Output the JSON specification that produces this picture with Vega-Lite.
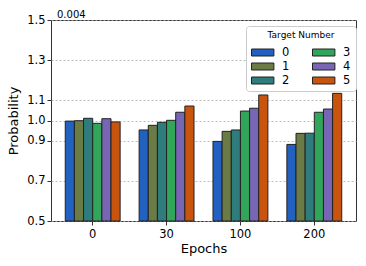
{
  "$schema": "https://vega.github.io/schema/vega-lite/v6.json",
  "autosize": "none",
  "width": 305,
  "height": 201,
  "padding": {"left": 51, "top": 20, "right": 10, "bottom": 45},
  "title": {"text": "0.004", "anchor": "start", "frame": "group", "fontSize": 10, "fontWeight": "normal", "offset": 2, "dx": 6, "dy": 8, "font": "DejaVu Sans", "color": "#000"},
  "config": {
    "font": "DejaVu Sans",
    "view": {"stroke": "#333", "strokeWidth": 1},
    "axis": {"domain": false, "tickColor": "#333", "tickSize": 4, "labelColor": "#000", "titleColor": "#000", "labelFont": "DejaVu Sans", "titleFont": "DejaVu Sans", "labelFontSize": 11.5, "titleFontSize": 13, "titleFontWeight": "normal"}
  },
  "data": {"values": [
    {"epoch": "0", "target": "0", "p": 0.997},
    {"epoch": "0", "target": "1", "p": 0.999},
    {"epoch": "0", "target": "2", "p": 1.011},
    {"epoch": "0", "target": "3", "p": 0.986},
    {"epoch": "0", "target": "4", "p": 1.009},
    {"epoch": "0", "target": "5", "p": 0.993},
    {"epoch": "30", "target": "0", "p": 0.953},
    {"epoch": "30", "target": "1", "p": 0.976},
    {"epoch": "30", "target": "2", "p": 0.991},
    {"epoch": "30", "target": "3", "p": 1.001},
    {"epoch": "30", "target": "4", "p": 1.041},
    {"epoch": "30", "target": "5", "p": 1.072},
    {"epoch": "100", "target": "0", "p": 0.896},
    {"epoch": "100", "target": "1", "p": 0.946},
    {"epoch": "100", "target": "2", "p": 0.953},
    {"epoch": "100", "target": "3", "p": 1.047},
    {"epoch": "100", "target": "4", "p": 1.061},
    {"epoch": "100", "target": "5", "p": 1.127},
    {"epoch": "200", "target": "0", "p": 0.881},
    {"epoch": "200", "target": "1", "p": 0.936},
    {"epoch": "200", "target": "2", "p": 0.937},
    {"epoch": "200", "target": "3", "p": 1.041},
    {"epoch": "200", "target": "4", "p": 1.057},
    {"epoch": "200", "target": "5", "p": 1.135}
  ]},
  "mark": {"type": "bar", "stroke": "#222", "strokeWidth": 1, "opacity": 1},
  "encoding": {
    "x": {"field": "epoch", "type": "nominal", "sort": ["0", "30", "100", "200"],
      "scale": {"paddingInner": 0.257, "paddingOuter": 0.193},
      "axis": {"title": "Epochs", "labelAngle": 0, "labelPadding": 3, "titlePadding": 3, "grid": false}},
    "xOffset": {"field": "target", "type": "nominal", "sort": ["0", "1", "2", "3", "4", "5"], "scale": {"paddingInner": 0, "paddingOuter": 0}},
    "y": {"field": "p", "type": "quantitative",
      "scale": {"domain": [0.5, 1.5], "nice": false, "zero": false},
      "axis": {"title": "Probability", "values": [0.5, 0.7, 0.9, 1.0, 1.1, 1.3, 1.5], "format": ".1f", "labelPadding": 2, "titlePadding": 6, "grid": true, "gridDash": [2, 2], "gridColor": "#aaa", "gridWidth": 0.8}},
    "y2": {"datum": 0.5},
    "color": {"field": "target", "type": "nominal",
      "scale": {"domain": ["0", "1", "2", "3", "4", "5"], "range": ["#2361c0", "#6a7b46", "#2e7c7c", "#31a65a", "#7866b5", "#c8540e"]},
      "legend": {"title": "Target Number", "orient": "none", "legendX": 195, "legendY": 6, "columns": 2,
        "symbolType": "M-1,-0.5H2.2V0.5H-1Z", "symbolSize": 196, "symbolStrokeColor": "#222", "symbolStrokeWidth": 1, "symbolOpacity": 1,
        "labelOffset": 16, "labelFontSize": 11.5, "labelColor": "#000", "columnPadding": 20, "rowPadding": 1,
        "titleFontSize": 9, "titleFontWeight": "normal", "titleAnchor": "middle", "titleColor": "#000", "titlePadding": 5,
        "fillColor": "#ffffff", "strokeColor": "#ccc", "cornerRadius": 3, "padding": 5}}
  }
}
